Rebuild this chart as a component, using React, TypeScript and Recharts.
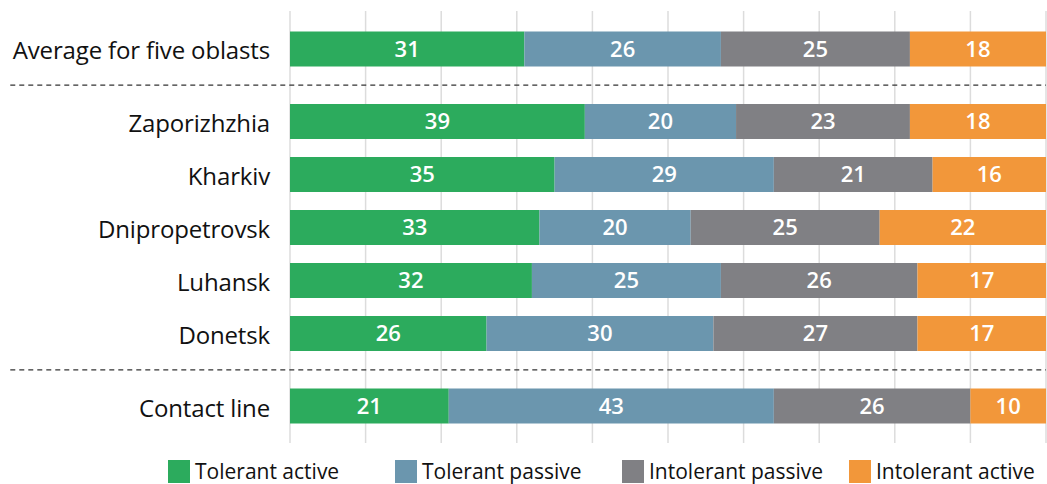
import React from 'react';
import { BarChart, Bar, XAxis, YAxis, CartesianGrid, ReferenceLine, LabelList, Legend } from 'recharts';

const regions = ['Average for five oblasts', 'Zaporizhzhia', 'Kharkiv', 'Dnipropetrovsk', 'Luhansk', 'Donetsk', 'Contact line'];
const groupOf = [0, 1, 1, 1, 1, 1, 2];
const tolerantActive = [31, 39, 35, 33, 32, 26, 21];
const tolerantPassive = [26, 20, 29, 20, 25, 30, 43];
const intolerantPassive = [25, 23, 21, 25, 26, 27, 26];
const intolerantActive = [18, 18, 16, 22, 17, 17, 10];
const seriesKeys = ['ta', 'tp', 'ip', 'ia'];
const seriesNames = ['Tolerant active', 'Tolerant passive', 'Intolerant passive', 'Intolerant active'];
const seriesColors = ['#2cab5d', '#6b96ae', '#808084', '#f2973a'];
const xTicks = [0, 10, 20, 30, 40, 50, 60, 70, 80, 90, 100];

const GROUP_GAP = 0.37;
const positions = regions.map((_, i) => i + groupOf[i] * GROUP_GAP);
const separators: number[] = [];
for (let i = 1; i < regions.length; i++) {
  if (groupOf[i] !== groupOf[i - 1]) separators.push((positions[i] + positions[i - 1]) / 2);
}

const data = regions.map((name, i) => ({
  name,
  pos: positions[i],
  ta: tolerantActive[i],
  tp: tolerantPassive[i],
  ip: intolerantPassive[i],
  ia: intolerantActive[i],
}));

const FONT = '"Open Sans", "Noto Sans", sans-serif';

const YTick = (props: any) => {
  const { y, payload } = props;
  const idx = positions.findIndex((p) => Math.abs(p - payload.value) < 1e-6);
  return (
    <text x={270} y={y} dy={1} textAnchor="end" dominantBaseline="central" fontFamily={FONT} fontSize={24} fill="#111" letterSpacing={-0.15}>
      {idx >= 0 ? regions[idx] : ''}
    </text>
  );
};

const LegendContent = () => (
  <div style={{ position: 'relative', height: 25, width: 1047 }}>
    {seriesNames.map((n, i) => (
      <div key={n} style={{ position: 'absolute', left: 168 + i * 227, top: 0, height: 25, display: 'flex', alignItems: 'center', fontFamily: FONT, fontSize: 21, lineHeight: '25px', color: '#111', whiteSpace: 'nowrap' }}>
        <span style={{ display: 'inline-block', width: 22, height: 23, background: seriesColors[i], marginRight: 5 }} />
        <span>{n}</span>
      </div>
    ))}
  </div>
);

export default function App() {
  return (
    <div style={{ width: 1047, height: 484, background: '#fff', position: 'absolute', left: 0, top: 0, overflow: 'hidden' }}>
      <style>{'html,body{margin:0;overflow:hidden;}'}</style>
      <BarChart width={1047} height={484} data={data} layout="vertical" margin={{ top: 11, right: 1, bottom: 41, left: 0 }}>
        <CartesianGrid horizontal={false} vertical stroke="#dcdcdc" strokeWidth={1.5} />
        <XAxis type="number" domain={[0, 100]} ticks={xTicks} allowDataOverflow hide />
        <YAxis
          type="number"
          dataKey="pos"
          domain={[-0.715, 7.436]}
          allowDataOverflow
          ticks={positions}
          interval={0}
          width={290}
          axisLine={false}
          tickLine={false}
          tick={<YTick />}
        />
        {separators.map((s) => (
          <ReferenceLine
            key={s}
            segment={[{ x: -37, y: s }, { x: 100, y: s }]}
            ifOverflow="visible"
            stroke="#333"
            strokeWidth={1.2}
            strokeDasharray="5 4"
          />
        ))}
        {seriesKeys.map((k, i) => (
          <Bar key={k} dataKey={k} name={seriesNames[i]} stackId="a" fill={seriesColors[i]} barSize={35} isAnimationActive={false}>
            <LabelList dataKey={k} position="center" fill="#fff" fontFamily={FONT} fontSize={22} fontWeight={600} />
          </Bar>
        ))}
        <Legend layout="horizontal" verticalAlign="middle" align="center" content={<LegendContent />} wrapperStyle={{ position: 'absolute', top: 459, left: 0, width: 1047, height: 25 }} />
      </BarChart>
    </div>
  );
}
